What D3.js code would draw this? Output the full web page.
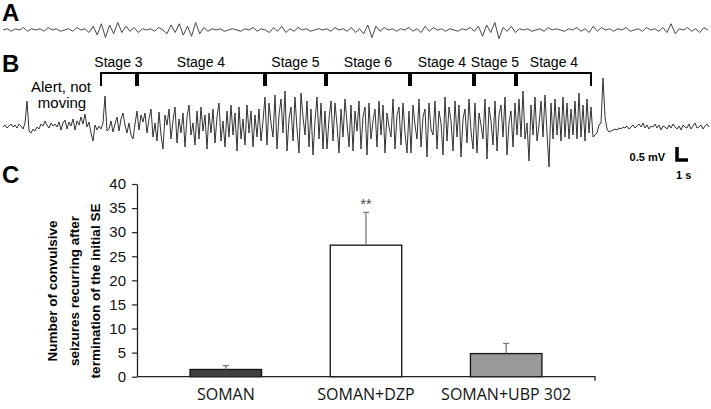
<!DOCTYPE html>
<html>
<head>
<meta charset="utf-8">
<script src="https://cdn.jsdelivr.net/npm/d3@7"></script>
<style>
  body { margin: 0; background: #fff; }
  svg { display: block; }
</style>
</head>
<body>
<svg id="fig" width="711" height="409"></svg>
<script>
// A: EEG baseline trace (one value every ~4 px, arbitrary units, up = positive)
const eegA = [
  0,1,-1,1,0,2,-1,1,0,1,-1,2,0,1,-1,0,
  1,-1,2,0,1,-2,3,-4,5,-6,4,-3,6,-2,3,-1,
  2,-2,1,0,1,-1,2,0,-3,4,-2,5,-4,3,-5,6,
  -3,2,-1,1,0,1,-1,0,1,0,-1,1,0,2,-1,1,
  0,-2,2,-1,3,-2,1,-1,2,0,1,-1,0,1,0,1,
  -1,2,0,1,-1,2,-2,1,-3,4,-6,3,-1,2,0,1,
  -1,1,0,2,-1,1,-2,3,-1,2,0,1,-1,1,0,-1,
  1,0,2,-1,3,-5,4,-2,6,-7,2,-1,3,-2,1,0,
  1,-1,0,1,-1,2,0,1,0,-1,1,0,2,-1,1,-2,
  3,-1,2,0,1,-1,1,0,2,-1,0,1,-1,2,0,1,
  -1,2,-2,5,-3,1,0,2,-1,1,-2,2,0
];

// B: seizure trace (one value every ~2 px)
const eegB = [
  // alert, not moving
  0,2,-1,1,3,0,2,-1,3,1,-2,4,26,-4,-6,-2,-4,0,-2,3,1,6,2,-1,4,1,3,0,5,-3,4,7,-2,5,1,8,-3,6,2,10,3,13,0,5,-6,-14,2,-3,1,
  // stage 3 / stage 4
  -2,4,31,-4,-2,6,-5,3,10,-4,8,14,2,-6,4,-8,-12,3,16,-3,12,5,14,-6,8,18,-10,4,-14,15,-8,-22,12,2,18,-12,6,20,-16,8,
  -6,14,-20,10,22,-8,4,-18,16,-12,20,-4,12,-22,14,-6,18,-16,10,24,-14,6,-20,16,-10,22,-8,14,-24,20,-12,8,-18,22,-6,16,
  -20,12,-10,18,-14,6,30,
  // stage 5
  -18,24,4,-10,32,-22,12,28,-6,36,-24,8,20,-14,30,-2,-26,34,10,-8,26,-20,18,-28,6,30,-12,24,-22,16,
  // stage 6
  -22,8,26,-14,24,2,-26,18,-10,28,4,-20,22,-24,16,-4,26,-22,10,20,-28,24,-12,6,18,-20,26,-8,22,-26,14,0,-10,28,-22,12,20,-18,24,-6,-26,16,
  // stage 4 / stage 5
  -26,22,2,-12,28,-20,10,18,-30,24,-2,-8,26,-22,16,4,-28,30,-14,20,6,-24,26,-10,22,-30,8,18,-16,28,
  -4,-22,24,-26,14,2,-12,28,-32,20,6,-18,26,-24,12,22,-10,30,-28,4,16,-20,24,
  // stage 4
  -8,28,-10,36,-12,4,-34,22,-8,30,-14,2,26,-10,32,-6,-40,24,-12,28,-8,20,-14,30,-10,24,-12,18,-8,26,-12,34,-10,22,-14,28,-6,20,
  // end of seizure
  -10,-8,-6,2,4,49,10,-2,-5,
  -4,-3,-2,-3,-1,-2,0,-1,1,-2,0,2,-1,1,3,0,4,-1,2,-2,1,0,3,-1,2,-3,1,0,-2,2,-1,3,0,-2,1,-3,2,0,-1,3,-2,1,4,-1,0,2,-2,1,3,0
];

// behavioural stages above trace B (edges in px along the trace)
const stageNames = ["Stage 3", "Stage 4", "Stage 5", "Stage 6", "Stage 4", "Stage 5", "Stage 4"];
const stageEdges = [100, 137, 265, 326, 410, 474, 516, 592];

// C: bar chart
const groups = ["SOMAN", "SOMAN+DZP", "SOMAN+UBP 302"];
const means = [1.5, 27.3, 4.8];
const sems = [0.8, 6.8, 2.1];
const marks = ["", "**", ""];
const yTicks = [0, 5, 10, 15, 20, 25, 30, 35, 40];
const yTitle = ["Number of convulsive", "seizures recurring after", "termination of the initial SE"];

const svg = d3.select('#fig');
const sans = "Liberation Sans, Arial, sans-serif";

// パネルラベル
[["A", 21], ["B", 72], ["C", 183]].forEach(([t, y]) => {
    svg.append('text')
        .attr('x', 2).attr('y', y)
        .attr('font-family', sans)
        .attr('font-weight', 'bold')
        .attr('font-size', 24)
        .text(t);
});

// トレースA
const xA = d3.scaleLinear().domain([0, eegA.length - 1]).range([3, 708]);
const yA = d3.scaleLinear().domain([-8, 8]).range([40, 20]);
svg.append('path')
    .datum(eegA)
    .attr('fill', 'none')
    .attr('stroke', '#333')
    .attr('stroke-width', 0.9)
    .attr('d', d3.line().x((d, i) => xA(i)).y(d => yA(d)));

// トレースB
const xB = d3.scaleLinear().domain([0, eegB.length - 1]).range([3, 709]);
const yB = d3.scaleLinear().domain([-50, 50]).range([177, 77]);
svg.append('path')
    .datum(eegB)
    .attr('fill', 'none')
    .attr('stroke', '#333')
    .attr('stroke-width', 1)
    .attr('d', d3.line().x((d, i) => xB(i)).y(d => yB(d)));

// ステージの括弧
const stages = stageNames.map((name, i) => ({ name, x0: stageEdges[i], x1: stageEdges[i + 1] }));
svg.append('g')
    .selectAll('path')
    .data(stages)
    .join('path')
    .attr('fill', 'none')
    .attr('stroke', '#000')
    .attr('stroke-width', 2)
    .attr('d', d => `M${d.x0 + 1},86V73H${d.x1 - 1}V86`);
svg.append('g')
    .selectAll('text')
    .data(stages)
    .join('text')
    .attr('x', d => (d.x0 + d.x1) / 2)
    .attr('y', 67)
    .attr('text-anchor', 'middle')
    .attr('font-family', sans)
    .attr('font-size', 14)
    .text(d => d.name);

const alert = svg.append('text')
    .attr('font-family', sans)
    .attr('font-size', 15)
    .attr('text-anchor', 'middle');
alert.append('tspan').attr('x', 61).attr('y', 92).text('Alert, not');
alert.append('tspan').attr('x', 62).attr('y', 108).text('moving');

// スケールバー
svg.append('path')
    .attr('fill', 'none')
    .attr('stroke', '#000')
    .attr('stroke-width', 3.5)
    .attr('d', 'M677,147V160H688');
svg.append('text')
    .attr('x', 665).attr('y', 161)
    .attr('text-anchor', 'end')
    .attr('font-family', sans).attr('font-weight', 'bold').attr('font-size', 11)
    .text('0.5 mV');
svg.append('text')
    .attr('x', 676).attr('y', 179)
    .attr('font-family', sans).attr('font-weight', 'bold').attr('font-size', 11)
    .text('1 s');

// 棒グラフ
const axisLeft = 137, axisRight = 595;
const y = d3.scaleLinear().domain([0, 40]).range([376.7, 184]);
const x = d3.scaleBand().domain(groups).range([155, 577]).paddingInner(0.49).paddingOuter(0.25);

const gy = svg.append('g')
    .attr('transform', `translate(${axisLeft},0)`)
    .call(d3.axisLeft(y).tickValues(yTicks).tickSize(5).tickSizeOuter(0).tickPadding(6));
gy.select('.domain').attr('stroke', '#222').attr('stroke-width', 1.3);
gy.selectAll('.tick line').attr('stroke', '#222').attr('stroke-width', 1.2);
gy.selectAll('.tick text').attr('font-family', sans).attr('font-size', 15).attr('fill', '#111');

svg.append('g')
    .selectAll('rect')
    .data(groups)
    .join('rect')
    .attr('x', d => x(d))
    .attr('width', x.bandwidth())
    .attr('y', (d, i) => y(means[i]))
    .attr('height', (d, i) => y(0) - y(means[i]))
    .attr('fill', (d, i) => ['#404040', '#ffffff', '#999999'][i])
    .attr('stroke', '#111')
    .attr('stroke-width', 1.3);

// エラーバー
const err = svg.append('g').attr('stroke', '#7a7a7a').attr('stroke-width', 1.3);
groups.forEach((g, i) => {
    const cx = x(g) + x.bandwidth() / 2;
    err.append('line').attr('x1', cx).attr('x2', cx).attr('y1', y(means[i])).attr('y2', y(means[i] + sems[i]));
    err.append('line').attr('x1', cx - 3).attr('x2', cx + 3).attr('y1', y(means[i] + sems[i])).attr('y2', y(means[i] + sems[i]));
});

svg.append('g')
    .selectAll('text')
    .data(groups)
    .join('text')
    .attr('x', d => x(d) + x.bandwidth() / 2)
    .attr('y', (d, i) => y(means[i] + sems[i]) - 3)
    .attr('text-anchor', 'middle')
    .attr('font-family', sans)
    .attr('font-size', 14)
    .attr('fill', '#444')
    .text((d, i) => marks[i]);

// x軸
svg.append('path')
    .attr('fill', 'none')
    .attr('stroke', '#222')
    .attr('stroke-width', 1.3)
    .attr('d', `M${axisLeft},${y(0)}H${axisRight}v4`);
const gx = svg.append('g')
    .attr('transform', `translate(0,${y(0)})`)
    .call(d3.axisBottom(x).tickSize(0).tickPadding(12));
gx.select('.domain').remove();
gx.selectAll('.tick text').attr('font-family', 'Open Sans, sans-serif').attr('font-size', 16).attr('fill', '#111');

// y軸タイトル
const yt = svg.append('text')
    .attr('transform', 'translate(0,291) rotate(-90)')
    .attr('text-anchor', 'middle')
    .attr('font-family', sans)
    .attr('font-weight', 'bold')
    .attr('font-size', 13.5);
yTitle.forEach((line, i) => {
    yt.append('tspan').attr('x', 0).attr('y', 57 + i * 21.5).text(line);
});
</script>
</body>
</html>
